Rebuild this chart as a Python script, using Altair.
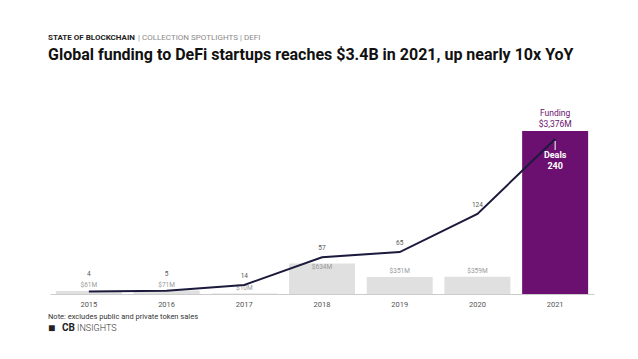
import altair as alt
import pandas as pd

years = ["2015", "2016", "2017", "2018", "2019", "2020", "2021"]
funding = [61, 71, 10, 634, 351, 359, 3376]
deals = [4, 5, 14, 57, 65, 124, 240]

df = pd.DataFrame({
    "year": years,
    "funding": funding,
    "deals": deals,
    "flabel": [f"${v:,}M" for v in funding],
    "dlabel": [str(v) for v in deals],
})
df["flabel2021"] = ["Funding\n" + s for s in df["flabel"]]
df["dlabel2021"] = ["Deals\n" + s for s in df["dlabel"]]

FONT = "Roboto"
PURPLE = "#6b1070"
W, H = 544, 163
F_DOM = [0, 3376]
D_DOM = [0, 252.4]

base = alt.Chart(df)
x = alt.X("year:N", scale=alt.Scale(paddingInner=0.15, paddingOuter=0.075),
          axis=alt.Axis(title=None, labelAngle=0, ticks=False, labelPadding=6,
                        labelFontSize=7.5, labelColor="#555", labelFont=FONT,
                        domainColor="#cccccc", domainWidth=1, grid=False))

yf = alt.Y("funding:Q", scale=alt.Scale(domain=F_DOM, nice=False, zero=True), axis=None)
yd = alt.Y("deals:Q", scale=alt.Scale(domain=D_DOM, nice=False, zero=True), axis=None)

bars = base.mark_bar(size=66).encode(
    x=x, y=yf,
    color=alt.condition(alt.datum.year == "2021", alt.value(PURPLE), alt.value("#e0e0e0")),
)

flabels_a = base.transform_filter(
    "datum.year != '2021' && datum.year != '2018'"
).mark_text(
    fontSize=6.5, color="#9a9a9a", font=FONT, baseline="middle", dy=-6
).encode(x=x, y=yf, text="flabel:N")

flabels_b = base.transform_filter(alt.datum.year == "2018").mark_text(
    fontSize=6.5, color="#9a9a9a", font=FONT, baseline="middle", dy=4
).encode(x=x, y=yf, text="flabel:N")

flabel21 = base.transform_filter(alt.datum.year == "2021").mark_text(
    fontSize=8.5, color=PURPLE, font=FONT, baseline="bottom", lineBreak="\n",
    lineHeight=11, dy=-13
).encode(x=x, y=yf, text="flabel2021:N")

line = base.mark_line(color="#1c1a3c", strokeWidth=2).encode(x=x, y=yd)

dlabels_a = base.transform_filter(
    "datum.year == '2015' || datum.year == '2016'"
).mark_text(
    fontSize=6.5, color="#555555", font=FONT, baseline="middle", dy=-17
).encode(x=x, y=yd, text="dlabel:N")

dlabels_b = base.transform_filter(
    "datum.year != '2015' && datum.year != '2016' && datum.year != '2021'"
).mark_text(
    fontSize=6.5, color="#555555", font=FONT, baseline="middle", dy=-9
).encode(x=x, y=yd, text="dlabel:N")

tick21 = base.transform_filter(alt.datum.year == "2021").mark_rule(
    color="white", strokeWidth=1, yOffset=2, y2Offset=11
).encode(x=x, y=yd, y2="deals:Q")

dlabel21 = base.transform_filter(alt.datum.year == "2021").mark_text(
    fontSize=9, fontWeight="bold", color="white", font=FONT, baseline="top",
    lineBreak="\n", lineHeight=11, dy=12
).encode(x=x, y=yd, text="dlabel2021:N")


def ann(text, px, py, **kw):
    return alt.Chart(pd.DataFrame({"t": [text]})).mark_text(
        align="left", font=FONT, **kw
    ).encode(x=alt.value(px), y=alt.value(py), text="t:N")


header1 = ann("STATE OF BLOCKCHAIN", -2, -93, fontSize=8, fontWeight="bold",
              color="#222222", baseline="middle")
header2 = ann("|  COLLECTION SPOTLIGHTS  |  DEFI", 88, -93, fontSize=8,
              color="#8a8a8a", baseline="middle")
title = ann("Global funding to DeFi startups reaches $3.4B in 2021, up nearly 10x YoY",
            -2, -71, fontSize=16, fontWeight="bold", color="#111111",
            baseline="alphabetic")
note = ann("Note: excludes public and private token sales", -2, 186, fontSize=7.5,
           color="#333333", baseline="middle")
logo0 = ann("■", -2, 197, fontSize=12, color="#222222", baseline="middle")
logo1 = ann("CB", 12, 197, fontSize=10, fontWeight="bold", color="#222222",
            baseline="middle")
logo2 = ann("INSIGHTS", 27, 197, fontSize=9, fontWeight=300, color="#333333",
            baseline="middle")

chart = alt.layer(
    bars, flabels_a, flabels_b, flabel21, line, dlabels_a, dlabels_b, tick21, dlabel21,
    header1, header2, title, note, logo0, logo1, logo2,
).resolve_scale(y="independent").properties(
    width=W, height=H,
    autosize=alt.AutoSizeParams(type="none"),
    padding={"left": 42, "top": 123, "right": 36, "bottom": 50},
).configure(background="white").configure_view(stroke=None)

chart.save("out.html", embed_options={"renderer": "svg", "actions": False})
